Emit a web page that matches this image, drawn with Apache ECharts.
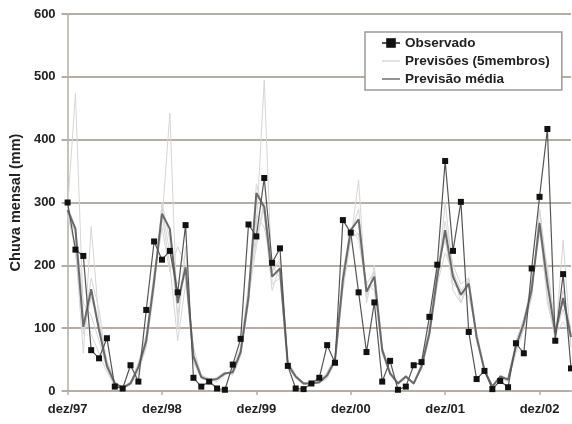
<!DOCTYPE html>
<html>
<head>
<meta charset="utf-8">
<script src="https://cdn.jsdelivr.net/npm/echarts@6/dist/echarts.min.js"></script>
<style>html,body{margin:0;padding:0;background:#fff}#c{width:572px;height:424px}</style>
</head>
<body>
<div id="c"></div>
<script>
// Month names and years for the x categories (dez/97 ... abr/03)
const monthNames = ['dez','jan','fev','mar','abr','mai','jun','jul','ago','set','out','nov'];
const startYear = 97;
const nMonths = 65;

// Observed monthly rainfall (mm)
const observado = [300,225,215,65,52,84,7,4,41,15,
                   129,238,209,223,157,264,21,7,15,4,
                   2,42,83,265,246,339,204,227,40,4,
                   3,12,21,73,45,272,252,157,62,141,
                   15,48,2,7,41,46,118,201,366,223,
                   301,94,19,32,3,16,6,76,60,195,
                   309,417,80,186,36];

// Ensemble mean forecast
const previsaoMedia = [288,258,102,162,97,40,12,5,12,38,
                       80,175,282,258,140,197,55,22,17,19,
                       28,30,62,150,315,293,182,195,42,23,
                       12,12,14,25,49,177,256,273,158,182,
                       65,28,12,23,12,39,92,182,256,182,
                       153,171,86,33,7,23,18,71,108,161,
                       267,171,92,148,86];

// Five ensemble members
const membro1 = [290,474,120,90,60,30,8,4,10,30,
                 70,160,300,240,120,200,60,25,15,20,
                 30,25,55,140,260,495,170,180,40,20,
                 10,15,12,20,45,160,240,336,140,200,
                 70,30,10,20,15,35,85,170,300,190,
                 140,180,80,30,10,20,15,60,100,150,
                 290,190,100,160,90];
const membro2 = [280,230,60,262,110,45,15,6,14,45,
                 90,190,270,442,100,230,50,20,18,15,
                 25,35,70,170,240,300,190,210,45,25,
                 14,10,16,30,55,190,260,250,170,160,
                 60,25,14,25,10,45,100,200,240,170,
                 160,150,95,35,5,25,20,80,115,170,
                 260,150,80,240,70];
const membro3 = [295,260,140,120,80,35,10,5,12,35,
                 75,170,290,220,170,180,45,20,16,22,
                 30,28,60,140,330,280,160,200,38,22,
                 12,14,15,22,50,170,250,290,150,190,
                 60,30,12,25,12,40,90,180,270,200,
                 170,180,90,30,8,22,18,70,100,150,
                 290,180,90,130,80];
const membro4 = [285,250,90,150,100,50,14,6,15,40,
                 85,180,280,200,80,170,70,25,20,18,
                 26,32,65,150,280,260,200,180,50,25,
                 12,10,14,26,48,180,260,240,160,170,
                 70,30,12,22,12,40,95,190,250,160,
                 140,170,80,35,6,24,16,75,110,175,
                 250,200,100,140,100];
const membro5 = [290,220,100,180,130,40,12,5,10,40,
                 75,175,260,190,230,200,50,20,16,20,
                 28,30,60,150,230,300,190,205,40,22,
                 12,12,14,26,48,185,245,250,170,190,
                 65,25,12,23,12,35,90,170,220,190,
                 160,175,85,35,6,24,20,70,115,160,
                 270,140,90,110,90];

const yTicks = {min: 0, max: 600, interval: 100};

const categories = [];
for (let i = 0; i < nMonths; i++) {
  const yy = (startYear + Math.floor((i + 11) / 12)) % 100;
  categories.push(monthNames[i % 12] + '/' + String(yy).padStart(2, '0'));
}

const FONT = '"Liberation Sans", Arial, sans-serif';
const GRID = '#b5ada6';
const MEMBER = '#d6d6d6';
const MEAN = '#6a6a6a';
const members = [membro1, membro2, membro3, membro4, membro5];
const LINE_ICON = 'path://M0,0 H30 V2.4 H0 Z';

const series = members.map(d => ({
  name: 'Previsões (5membros)',
  type: 'line',
  data: d,
  symbol: 'none',
  lineStyle: {color: MEMBER, width: 1},
  itemStyle: {color: MEMBER},
  z: 2
}));
series.push({
  name: 'Previsão média',
  type: 'line',
  data: previsaoMedia,
  symbol: 'none',
  lineStyle: {color: MEAN, width: 2},
  itemStyle: {color: MEAN},
  z: 3
});
series.push({
  name: 'Observado',
  type: 'line',
  data: observado,
  symbol: 'rect',
  symbolSize: 6,
  showAllSymbol: true,
  lineStyle: {color: '#555', width: 1.2},
  itemStyle: {color: '#111'},
  z: 4
});

const chart = echarts.init(document.getElementById('c'), null, {renderer: 'canvas'});
chart.setOption({
  animation: false,
  backgroundColor: '#fff',
  grid: {left: 67, right: 1, top: 14, bottom: 33},
  legend: {
    orient: 'vertical',
    left: 365, top: 32,
    data: [
      {name: 'Observado'},
      {name: 'Previsões (5membros)', icon: LINE_ICON, itemStyle: {color: MEMBER}},
      {name: 'Previsão média', icon: LINE_ICON, itemStyle: {color: MEAN}}
    ],
    backgroundColor: '#fff',
    borderColor: '#9a9a9a',
    borderWidth: 1.5,
    padding: [4, 12, 4, 16],
    itemWidth: 18, itemHeight: 12, itemGap: 4,
    textStyle: {fontFamily: FONT, fontWeight: 'bold', fontSize: 13.5, color: '#222'}
  },
  xAxis: {
    type: 'category',
    data: categories,
    boundaryGap: false,
    axisLine: {show: true, lineStyle: {color: GRID, width: 2}},
    axisTick: {show: true, interval: 11, length: 4, lineStyle: {color: GRID, width: 1.5}},
    axisLabel: {interval: 11, margin: 12, fontFamily: FONT, fontWeight: 'bold', fontSize: 13, color: '#222'},
    splitLine: {show: false}
  },
  yAxis: {
    type: 'value',
    min: yTicks.min, max: yTicks.max, interval: yTicks.interval,
    name: 'Chuva mensal (mm)',
    nameLocation: 'middle',
    nameGap: 44,
    nameTextStyle: {fontFamily: FONT, fontWeight: 'bold', fontSize: 14.5, color: '#222'},
    axisLine: {show: true, lineStyle: {color: GRID, width: 1.5}},
    axisTick: {show: true, length: 6, lineStyle: {color: GRID, width: 2}},
    axisLabel: {margin: 12, fontFamily: FONT, fontWeight: 'bold', fontSize: 13, color: '#222'},
    splitLine: {show: true, lineStyle: {color: GRID, width: 2}}
  },
  series: series
});
</script>
</body>
</html>
